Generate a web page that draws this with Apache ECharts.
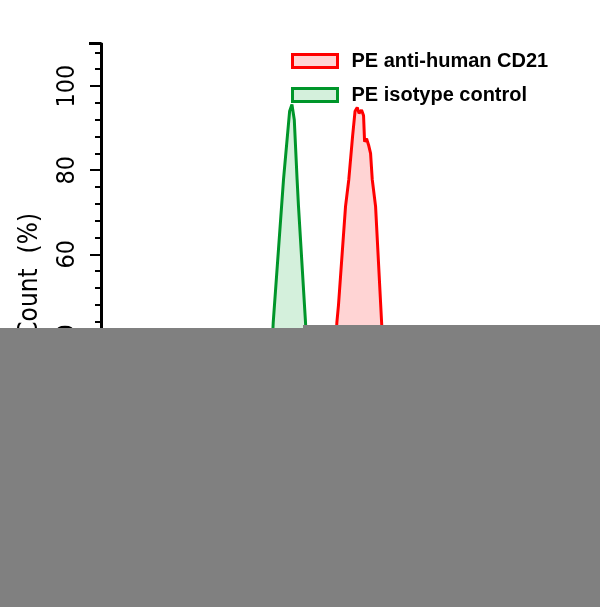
<!DOCTYPE html>
<html>
<head>
<meta charset="utf-8">
<script src="https://cdn.jsdelivr.net/npm/echarts@6/dist/echarts.min.js"></script>
<style>html,body{margin:0;padding:0;background:#fff;}#c{width:600px;height:607px;}</style>
</head>
<body>
<div id="c"></div>
<script>
// Fluorescence channel (x) and count % (y)
const seriesNames = ['PE anti-human CD21', 'PE isotype control'];
const isoX = [330, 345, 353, 362, 368, 390, 403, 408, 413, 419, 422, 437, 443, 452, 460, 473];
const isoY = [0, 3, 12, 30, 43.8, 77.8, 94, 95.6, 92, 77.8, 71.4, 43.8, 30, 12, 3, 0];
const cd21X = [465, 480, 488, 497, 504, 507.5, 522.5, 529.5, 537.5, 542.8, 547.5, 551.4, 556.7, 561, 563.2, 567.5, 571.7, 576, 579.6, 586.7, 599.6, 606, 614.5, 623.1, 636];
const cd21Y = [0, 3, 12, 30, 43.8, 48, 71.4, 77.8, 88, 94, 94.9, 93.5, 94.3, 93, 86.8, 87.5, 86, 84, 77.8, 71.4, 43.8, 30, 12, 3, 0];
const yTicks = [0, 20, 40, 60, 80, 100];

const pair = (xs, ys) => xs.map((x, i) => [x, ys[i]]);
const RED = '#ff0000', RED_FILL = '#ffd4d4';
const GREEN = '#00962a', GREEN_FILL = '#d4f0dc';
const NARROW = "'Liberation Sans Narrow', 'DejaVu Sans Condensed', 'Liberation Sans', Arial, sans-serif";

const chart = echarts.init(document.getElementById('c'));
chart.setOption({
  animation: false,
  backgroundColor: '#ffffff',
  grid: { left: 101, right: 31, top: 44, bottom: 100.3 },
  legend: {
    orient: 'vertical', left: 291, top: 51, padding: 0,
    itemWidth: 45, itemHeight: 13, itemGap: 14,
    textStyle: { fontFamily: 'Liberation Sans', fontSize: 20, fontWeight: 'bold', color: '#000', padding: [0, 0, 0, 9] },
    data: [
      { name: seriesNames[0], icon: 'rect', itemStyle: { color: RED_FILL, borderColor: RED, borderWidth: 3 } },
      { name: seriesNames[1], icon: 'rect', itemStyle: { color: GREEN_FILL, borderColor: GREEN, borderWidth: 3 } }
    ]
  },
  xAxis: [
    { type: 'value', min: 0, max: 1000, axisLine: { lineStyle: { color: '#000', width: 3 } },
      axisTick: { show: false }, axisLabel: { show: false }, splitLine: { show: false } },
    { type: 'value', position: 'top', min: 0, max: 1000, axisLine: { show: true, lineStyle: { color: '#000', width: 3 } },
      axisTick: { show: false }, axisLabel: { show: false }, splitLine: { show: false } }
  ],
  yAxis: [
    { type: 'value', min: 0, max: 110, interval: 20,
      name: 'Count  (%)', nameLocation: 'middle', nameGap: 58, nameRotate: 90,
      nameTextStyle: { fontFamily: NARROW, fontSize: 26, color: '#000' },
      axisLine: { show: true, lineStyle: { color: '#000', width: 3 } },
      axisTick: { show: true, length: 11, lineStyle: { color: '#000', width: 2 } },
      minorTick: { show: true, splitNumber: 5, length: 6, lineStyle: { color: '#000', width: 2 } },
      axisLabel: { rotate: 90, margin: 21, showMaxLabel: false, fontFamily: NARROW, fontSize: 25, color: '#000',
        formatter: v => (yTicks.indexOf(v) >= 0 ? String(v) : '') },
      splitLine: { show: false } },
    { type: 'value', position: 'right', min: 0, max: 110,
      axisLine: { show: true, lineStyle: { color: '#000', width: 3 } },
      axisTick: { show: false }, axisLabel: { show: false }, splitLine: { show: false } }
  ],
  series: [
    { name: seriesNames[0], type: 'line', data: pair(cd21X, cd21Y), showSymbol: false, symbol: 'none',
      lineStyle: { color: RED, width: 3 }, itemStyle: { color: RED }, areaStyle: { color: RED_FILL, opacity: 1 }, z: 3 },
    { name: seriesNames[1], type: 'line', data: pair(isoX, isoY), showSymbol: false, symbol: 'none',
      lineStyle: { color: GREEN, width: 3 }, itemStyle: { color: GREEN }, areaStyle: { color: GREEN_FILL, opacity: 1 }, z: 3 }
  ],
  graphic: [
    { type: 'line', shape: { x1: 89, y1: 43.5, x2: 101, y2: 43.5 }, style: { stroke: '#000', lineWidth: 3 }, z: 50 },
    { type: 'rect', shape: { x: 0, y: 328, width: 303, height: 279 }, style: { fill: '#808080' }, z: 100 },
    { type: 'rect', shape: { x: 303, y: 325, width: 297, height: 282 }, style: { fill: '#808080' }, z: 100 }
  ]
});
</script>
</body>
</html>
